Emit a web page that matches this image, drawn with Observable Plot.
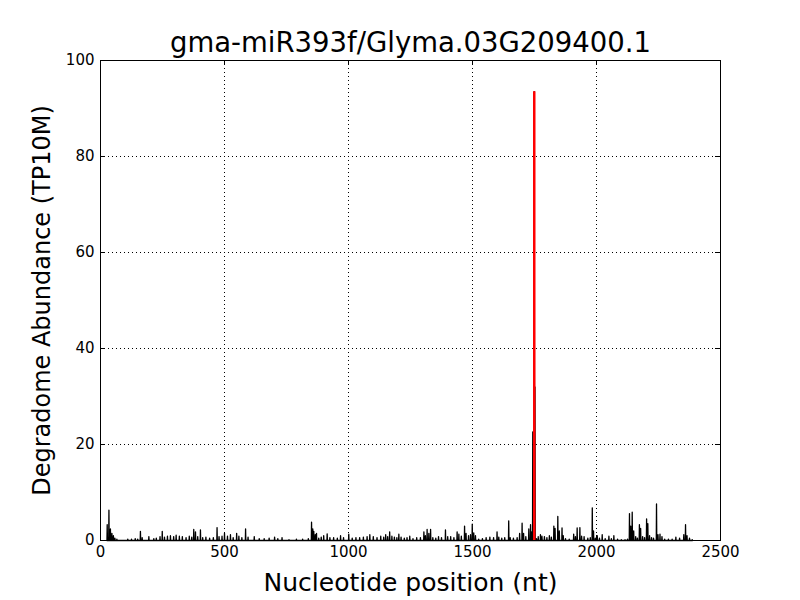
<!DOCTYPE html>
<html>
<head>
<meta charset="utf-8">
<script src="https://cdn.jsdelivr.net/npm/d3@7"></script>
<script src="https://cdn.jsdelivr.net/npm/@observablehq/plot@0.6"></script>
<style>
  html, body { margin: 0; padding: 0; background: #fff; }
  #chart { width: 800px; height: 600px; }
</style>
</head>
<body>
<div id="chart"></div>
<script>
const titleText = "gma-miR393f/Glyma.03G209400.1";
const xLabel = "Nucleotide position (nt)";
const yLabel = "Degradome Abundance (TP10M)";
const xTicks = [0, 500, 1000, 1500, 2000, 2500];
const yTicks = [0, 20, 40, 60, 80, 100];

// degradome tag positions (nt) and abundance (TP10M)
const positions = [27,34,40,46,52,58,66,110,125,140,150,161,168,195,215,225,240,249,258,270,282,295,305,318,330,345,358,368,376,383,392,403,412,425,440,455,470,478,490,500,512,524,535,549,558,570,585,595,620,640,660,680,702,715,732,760,790,815,838,851,856,860,866,871,880,890,900,914,925,940,955,968,980,1001,1015,1030,1045,1060,1075,1086,1100,1115,1130,1142,1150,1158,1166,1175,1185,1195,1203,1212,1225,1236,1247,1260,1275,1290,1304,1310,1317,1324,1331,1340,1352,1363,1375,1391,1400,1412,1425,1438,1445,1455,1468,1474,1484,1492,1499,1505,1512,1525,1540,1555,1570,1585,1599,1606,1618,1630,1646,1652,1665,1680,1690,1700,1706,1715,1727,1734,1738,1743,1749,1752,1758,1765,1774,1780,1790,1800,1810,1818,1828,1833,1844,1850,1861,1866,1875,1890,1908,1915,1922,1933,1940,1950,1965,1975,1983,1988,1995,2003,2012,2023,2035,2050,2060,2070,2085,2100,2115,2125,2133,2138,2144,2150,2158,2165,2173,2178,2186,2194,2202,2207,2214,2222,2230,2242,2248,2256,2264,2275,2290,2305,2320,2335,2352,2359,2365,2375,2386];
const abundance = [3.3,6.3,2.4,1.5,1.0,0.5,0.3,0.3,0.3,0.4,0.3,1.9,0.6,0.8,0.4,0.5,0.8,1.9,0.7,0.9,1.0,0.8,1.1,0.9,0.8,0.6,0.9,0.7,2.3,1.8,0.8,2.2,0.6,0.7,0.5,0.6,2.7,0.8,0.9,1.5,0.9,1.2,0.6,1.5,0.9,0.6,2.4,0.7,0.8,0.4,0.4,0.5,0.7,0.4,0.6,0.2,0.3,0.3,0.4,3.8,2.4,1.9,1.2,1.5,0.5,0.7,1.0,1.4,0.6,0.6,0.5,1.0,0.6,1.3,0.5,0.6,0.6,0.7,0.8,1.2,0.8,0.6,0.9,0.7,1.2,0.8,1.8,0.9,0.7,0.6,1.3,0.7,0.5,0.6,0.9,0.4,0.6,0.6,1.8,1.0,2.3,1.5,2.3,0.6,0.5,0.8,0.6,2.2,0.8,0.8,0.6,1.8,1.3,0.9,3.0,1.5,1.0,1.2,3.4,1.6,1.0,0.3,0.4,0.6,0.7,0.6,1.8,0.7,0.5,0.6,4.1,0.6,0.5,0.6,1.5,3.6,1.5,0.8,2.4,3.3,1.8,22.6,93.5,32,0.4,0.8,1.2,0.9,0.8,0.6,1.0,0.7,3.0,2.5,5.0,2.0,2.6,1.0,0.4,0.3,1.3,0.8,2.6,2.7,0.9,0.8,0.5,0.6,6.8,2.0,0.5,1.0,0.5,1.2,0.4,0.9,0.4,1.0,0.3,0.2,0.2,0.3,5.6,3.0,5.9,2.0,0.8,0.5,3.3,2.5,0.8,0.6,4.5,3.5,1.0,0.6,0.5,7.6,1.2,1.3,0.8,0.3,0.3,0.3,0.7,0.5,1.2,3.3,1.0,0.5,0.2];

// cleavage site (target)
const sitePos = [1749];
const siteVal = [93.5];

// line table: each tag is a spike that returns to 0 at neighbouring nucleotides
const lineData = [];
positions.forEach((p, i) => {
  lineData.push({x: p - 1, y: 0});
  lineData.push({x: p, y: abundance[i]});
  lineData.push({x: p + 1, y: 0});
});
const siteData = sitePos.map((p, i) => ({x: p, y: siteVal[i]}));

const xTickLen = 2500 * 5 / 620;
const yTickLen = 100 * 5 / 480;

const chart = Plot.plot({
  width: 800,
  height: 600,
  marginLeft: 100,
  marginRight: 80,
  marginTop: 60,
  marginBottom: 60,
  style: {fontFamily: "DejaVu Sans", fontSize: "15px", color: "black", background: "white"},
  x: {domain: [0, 2500], ticks: xTicks, label: null},
  y: {domain: [0, 100], ticks: yTicks, label: null},
  marks: [
    // dotted grid
    Plot.ruleX(xTicks.slice(1, -1), {stroke: "black", strokeWidth: 1, strokeDasharray: "1,3"}),
    Plot.ruleY(yTicks.slice(1, -1), {stroke: "black", strokeWidth: 1, strokeDasharray: "1,3"}),
    // data
    Plot.line(lineData, {x: "x", y: "y", stroke: "black", strokeWidth: 1.3}),
    Plot.ruleX(siteData, {x: "x", y1: 0, y2: "y", stroke: "#ff0000", strokeWidth: 2.5}),
    // inward ticks on all sides
    Plot.ruleX(xTicks, {x: d => d, y1: 0, y2: yTickLen, stroke: "black"}),
    Plot.ruleX(xTicks, {x: d => d, y1: 100, y2: 100 - yTickLen, stroke: "black"}),
    Plot.ruleY(yTicks, {y: d => d, x1: 0, x2: xTickLen, stroke: "black"}),
    Plot.ruleY(yTicks, {y: d => d, x1: 2500, x2: 2500 - xTickLen, stroke: "black"}),
    Plot.axisX(xTicks, {tickSize: 0, tickPadding: 6, fontSize: 15, tickFormat: d => String(d)}),
    Plot.axisY(yTicks, {tickSize: 0, tickPadding: 6, fontSize: 15, tickFormat: d => String(d)}),
    Plot.frame({stroke: "black", strokeWidth: 1}),
    // title and axis labels
    Plot.text([titleText], {frameAnchor: "top", lineAnchor: "middle", textAnchor: "middle", dy: -17, fontSize: 27.5, text: d => d, fill: "black"}),
    Plot.text([xLabel], {frameAnchor: "bottom", lineAnchor: "middle", textAnchor: "middle", dy: 42, fontSize: 25, text: d => d, fill: "black"}),
    Plot.text([yLabel], {frameAnchor: "left", lineAnchor: "middle", textAnchor: "middle", dx: -58, rotate: -90, fontSize: 24, text: d => d, fill: "black"})
  ]
});
document.getElementById("chart").appendChild(chart);
</script>
</body>
</html>
